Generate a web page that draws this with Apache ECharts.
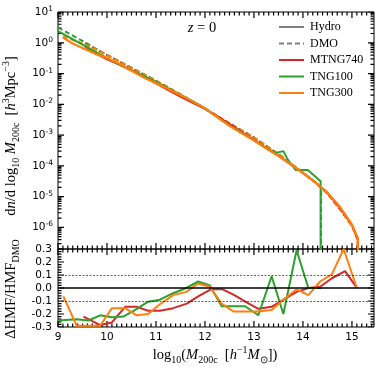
<!DOCTYPE html>
<html>
<head>
<meta charset="utf-8">
<script src="https://cdn.jsdelivr.net/npm/echarts@6/dist/echarts.min.js"></script>
<style>
html, body { margin: 0; padding: 0; background: #fff; }
#main { width: 382px; height: 372px; }
</style>
</head>
<body>
<div id="main"></div>
<script>
// ---- values ----
// top panel: log10( dn/dlog10 M200c ), last point drops off the axis
var mtngMass   = [9.55, 9.75, 10.0, 10.25, 10.5, 10.75, 11.0, 11.25, 11.5, 11.75, 12.0, 12.25, 12.5, 12.75, 13.0, 13.25, 13.5, 13.75, 14.0, 14.25, 14.5, 14.75, 15.0, 15.12, 15.12];
var mtngDmo    = [-0.01, -0.19, -0.40, -0.61, -0.82, -1.03, -1.24, -1.46, -1.68, -1.91, -2.14, -2.38, -2.62, -2.85, -3.08, -3.35, -3.62, -3.92, -4.22, -4.53, -4.90, -5.40, -5.95, -6.40, -7.5];
var mtngHydro  = [-0.12, -0.33, -0.54, -0.71, -0.89, -1.11, -1.32, -1.54, -1.75, -1.95, -2.15, -2.38, -2.64, -2.90, -3.15, -3.42, -3.67, -3.95, -4.23, -4.53, -4.88, -5.35, -5.92, -6.40, -7.5];

var tng100DmoMass = [9.0, 9.25, 9.5, 9.75, 10.0, 10.25, 10.5, 10.75, 11.0, 11.25, 11.5, 11.75, 12.0, 12.25, 12.5, 12.75, 13.0, 13.25, 13.5, 13.75, 14.0, 14.25, 14.37, 14.37];
var tng100Dmo     = [0.50, 0.28, 0.06, -0.17, -0.39, -0.60, -0.81, -1.02, -1.23, -1.45, -1.68, -1.91, -2.14, -2.38, -2.62, -2.85, -3.08, -3.35, -3.62, -3.92, -4.22, -4.53, -4.70, -7.5];
var tng100HydroMass = [9.0, 9.25, 9.5, 9.75, 10.0, 10.25, 10.5, 10.75, 11.0, 11.25, 11.5, 11.75, 12.0, 12.25, 12.5, 12.75, 13.0, 13.25, 13.45, 13.6, 13.7, 13.85, 14.1, 14.36, 14.36];
var tng100Hydro     = [0.38, 0.16, -0.06, -0.28, -0.50, -0.71, -0.90, -1.08, -1.27, -1.48, -1.69, -1.90, -2.13, -2.42, -2.69, -2.92, -3.17, -3.43, -3.58, -3.52, -3.82, -4.13, -4.13, -4.50, -7.5];

var tng300Mass  = [9.1, 9.25, 9.5, 9.75, 10.0, 10.25, 10.5, 10.75, 11.0, 11.25, 11.5, 11.75, 12.0, 12.25, 12.5, 12.75, 13.0, 13.25, 13.5, 13.75, 14.0, 14.25, 14.5, 14.75, 15.0, 15.12, 15.12];
var tng300Dmo   = [0.21, 0.12, -0.02, -0.20, -0.40, -0.61, -0.82, -1.03, -1.24, -1.46, -1.68, -1.91, -2.14, -2.38, -2.62, -2.85, -3.08, -3.35, -3.62, -3.92, -4.22, -4.53, -4.90, -5.40, -5.95, -6.40, -7.5];
var tng300Hydro = [0.18, 0.02, -0.17, -0.35, -0.50, -0.68, -0.91, -1.13, -1.31, -1.50, -1.70, -1.91, -2.13, -2.41, -2.70, -2.94, -3.17, -3.43, -3.68, -3.94, -4.23, -4.53, -4.87, -5.32, -5.91, -6.35, -7.5];

// bottom panel: (HMF_hydro - HMF_dmo) / HMF_dmo
var mtngRatioMass = [9.52, 9.86, 10.10, 10.37, 10.61, 10.84, 11.08, 11.35, 11.63, 11.86, 12.12, 12.36, 12.60, 12.85, 13.09, 13.36, 13.60, 13.87, 14.11, 14.35, 14.59, 14.86, 15.10];
var mtngRatio     = [-0.22, -0.285, -0.265, -0.145, -0.145, -0.175, -0.175, -0.155, -0.12, -0.065, -0.01, -0.01, -0.055, -0.11, -0.16, -0.145, -0.09, -0.03, 0.0, 0.01, 0.075, 0.13, 0.0];
var tng100RatioMass = [9.00, 9.38, 9.62, 9.86, 10.10, 10.33, 10.57, 10.84, 11.08, 11.35, 11.62, 11.86, 12.10, 12.34, 12.58, 12.82, 13.09, 13.36, 13.60, 13.87, 14.11, 14.38];
var tng100Ratio     = [-0.25, -0.24, -0.25, -0.21, -0.225, -0.22, -0.17, -0.105, -0.09, -0.04, 0.0, 0.05, 0.02, -0.14, -0.14, -0.14, -0.21, 0.09, -0.2, 0.29, 0.0, 0.0];
var tng300RatioMass = [9.11, 9.38, 9.86, 10.10, 10.37, 10.61, 10.84, 11.08, 11.35, 11.62, 11.86, 12.10, 12.34, 12.58, 12.85, 13.09, 13.36, 13.60, 13.87, 14.11, 14.35, 14.59, 14.83, 15.10];
var tng300Ratio     = [-0.065, -0.29, -0.29, -0.155, -0.155, -0.21, -0.2, -0.125, -0.055, -0.03, 0.035, 0.01, -0.12, -0.18, -0.18, -0.18, -0.17, -0.09, -0.01, -0.055, 0.05, 0.105, 0.3, 0.0];

// tick labels
var xTicks = [9, 10, 11, 12, 13, 14, 15];
var yTopTicks = [-6, -5, -4, -3, -2, -1, 0, 1];
var yBotTicks = [-0.3, -0.2, -0.1, 0.0, 0.1, 0.2, 0.3];

var X_MIN = 9, X_MAX = 15.45;
var YT_MIN = -6.7, YT_MAX = 1;
var YB_MIN = -0.3, YB_MAX = 0.3;
var GRID_W = 316, TOP_H = 237, BOT_H = 78;

var RED = '#d62728', GREEN = '#2ca02c', ORANGE = '#ff7f0e', GREY = '#808080';
var SANS = 'DejaVu Sans', SERIF = 'Liberation Serif';

// minor tick positions
var xMinor = [];
for (var i = 91; i <= 154; i++) { if (i % 10) xMinor.push(i / 10); }
var yTopMinor = [];
for (var n = -7; n <= 0; n++) {
  for (var k = 2; k <= 9; k++) {
    var lv = n + Math.log10(k);
    if (lv > YT_MIN && lv < YT_MAX) yTopMinor.push(lv);
  }
}
var yBotMinor = [];
for (var j = -14; j <= 14; j++) { if (j % 5) yBotMinor.push(j * 0.02); }

function pairs(xs, ys) {
  return xs.map(function (x, i) { return [x, ys[i]]; });
}

// inward ticks as short segments of a line series, separated by gaps
function tickPath(ymin, ymax, height, xMaj, xMin, yMaj, yMin) {
  var ux = (X_MAX - X_MIN) / GRID_W, uy = (ymax - ymin) / height;
  var pts = [];
  function seg(a, b) { pts.push(a, b, [a[0], '-']); }
  function xt(v, len) {
    seg([v, ymin], [v, ymin + len * uy]);
    seg([v, ymax], [v, ymax - len * uy]);
  }
  function yt(v, len) {
    seg([X_MIN, v], [X_MIN + len * ux, v]);
    seg([X_MAX, v], [X_MAX - len * ux, v]);
  }
  xMaj.forEach(function (v) { xt(v, 6); });
  xMin.forEach(function (v) { xt(v, 3.5); });
  yMaj.forEach(function (v) { yt(v, 6); });
  yMin.forEach(function (v) { yt(v, 3.5); });
  return pts;
}

function tickSeries(grid, pts) {
  return {
    type: 'line', data: pts, xAxisIndex: grid, yAxisIndex: grid,
    symbol: 'none', silent: true, connectNulls: false,
    lineStyle: { color: '#000', width: 1.2 }
  };
}

function axis(grid, pos, min, max, label) {
  return {
    type: 'value', gridIndex: grid, position: pos, min: min, max: max,
    splitLine: { show: false },
    axisLine: { show: false },
    axisTick: { show: false },
    axisLabel: label ? Object.assign({ show: true, color: '#000', fontFamily: SANS, fontSize: 10.5 }, label) : { show: false }
  };
}

function line(name, data, color, dashed, grid, width) {
  return {
    name: name, type: 'line', data: data,
    xAxisIndex: grid, yAxisIndex: grid,
    symbol: 'none', silent: true, z: 3,
    color: color,
    lineStyle: { color: color, width: width || 2, type: dashed ? [5, 3] : 'solid' }
  };
}

var RICH = {
  r: { fontFamily: SERIF, fontSize: 14.5, lineHeight: 20, color: '#000' },
  i: { fontFamily: SERIF, fontStyle: 'italic', fontSize: 14.5, lineHeight: 20, color: '#000' },
  sb: { fontFamily: SERIF, fontSize: 10, lineHeight: 13, verticalAlign: 'bottom', color: '#000' },
  sp: { fontFamily: SERIF, fontSize: 10, lineHeight: 13, verticalAlign: 'top', color: '#000' }
};

var texts = [
  {
    type: 'text', x: 202, y: 28,
    style: { text: '{i|z}{r| = 0}', rich: RICH, align: 'center', verticalAlign: 'middle' }
  },
  {
    type: 'text', x: 11, y: 136, rotation: Math.PI / 2,
    style: {
      text: '{r|d}{i|n}{r|/d log}{sb|10}{i| M}{sb|200c}{r|  [}{i|h}{sp|3}{r|Mpc}{sp|−3}{r|]}',
      rich: RICH, align: 'center', verticalAlign: 'middle'
    }
  },
  {
    type: 'text', x: 11, y: 289, rotation: Math.PI / 2,
    style: { text: '{r|ΔHMF/HMF}{sb|DMO}', rich: RICH, align: 'center', verticalAlign: 'middle' }
  },
  {
    type: 'text', x: 215, y: 355,
    style: {
      text: '{r|log}{sb|10}{r|(}{i|M}{sb|200c}{r|  [}{i|h}{sp|−1}{i|M}{sb|⊙}{r|])}',
      rich: RICH, align: 'center', verticalAlign: 'middle'
    }
  }
];

var option = {
  animation: false,
  backgroundColor: '#fff',
  grid: [
    { left: 58, top: 12, width: GRID_W, height: TOP_H, show: true, borderColor: '#000', borderWidth: 1 },
    { left: 58, top: 12 + TOP_H, width: GRID_W, height: BOT_H, show: true, borderColor: '#000', borderWidth: 1 }
  ],
  xAxis: [
    axis(0, 'bottom', X_MIN, X_MAX),
    axis(1, 'bottom', X_MIN, X_MAX, { customValues: xTicks, margin: 5, formatter: function (v) { return String(v); } })
  ],
  yAxis: [
    axis(0, 'left', YT_MIN, YT_MAX, {
      customValues: yTopTicks, margin: 5,
      formatter: function (v) { return '{a|10}{s|' + String(v) + '}'; },
      rich: {
        a: { fontFamily: SANS, fontSize: 10.5, lineHeight: 14, color: '#000' },
        s: { fontFamily: SANS, fontSize: 7.5, lineHeight: 9, verticalAlign: 'top', color: '#000' }
      }
    }),
    axis(1, 'left', YB_MIN, YB_MAX, {
      customValues: yBotTicks, margin: 6,
      formatter: function (v) { return v.toFixed(1); }
    })
  ],
  legend: {
    data: ['Hydro', 'DMO', 'MTNG740', 'TNG100', 'TNG300'],
    orient: 'vertical',
    left: 273, top: 15,
    itemWidth: 25, itemHeight: 1, itemGap: 2.5,
    selectedMode: false,
    textStyle: { fontFamily: SERIF, fontSize: 12, lineHeight: 14, color: '#000', padding: [0, 0, 0, 1] }
  },
  graphic: texts,
  series: [
    tickSeries(0, tickPath(YT_MIN, YT_MAX, TOP_H, xTicks, xMinor, yTopTicks, yTopMinor)),
    tickSeries(1, tickPath(YB_MIN, YB_MAX, BOT_H, xTicks, xMinor, yBotTicks, yBotMinor)),
    line('Hydro', [], GREY, false, 0),
    line('DMO', [], GREY, true, 0),
    line('MTNG740 DMO', pairs(mtngMass, mtngDmo), RED, true, 0),
    line('TNG100 DMO', pairs(tng100DmoMass, tng100Dmo), GREEN, true, 0),
    line('TNG300 DMO', pairs(tng300Mass, tng300Dmo), ORANGE, true, 0),
    line('MTNG740', pairs(mtngMass, mtngHydro), RED, false, 0),
    line('TNG100', pairs(tng100HydroMass, tng100Hydro), GREEN, false, 0),
    line('TNG300', pairs(tng300Mass, tng300Hydro), ORANGE, false, 0, 2.3),
    {
      type: 'line', data: [], xAxisIndex: 1, yAxisIndex: 1, silent: true,
      markLine: {
        silent: true, symbol: 'none', label: { show: false },
        data: [
          { yAxis: 0, lineStyle: { color: '#000', width: 1.6, type: 'solid' } },
          { yAxis: 0.1, lineStyle: { color: '#000', width: 0.6, type: [2, 1.5] } },
          { yAxis: -0.1, lineStyle: { color: '#000', width: 0.6, type: [2, 1.5] } }
        ]
      }
    },
    line('MTNG740', pairs(mtngRatioMass, mtngRatio), RED, false, 1),
    line('TNG100', pairs(tng100RatioMass, tng100Ratio), GREEN, false, 1),
    line('TNG300', pairs(tng300RatioMass, tng300Ratio), ORANGE, false, 1)
  ]
};

echarts.init(document.getElementById('main')).setOption(option);
</script>
</body>
</html>
